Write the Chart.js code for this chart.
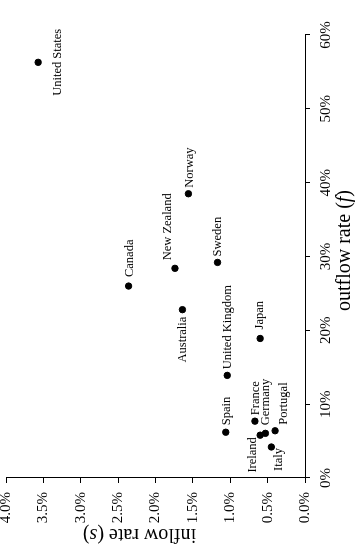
<!DOCTYPE html>
<html>
<head>
<meta charset="utf-8">
<script src="https://cdn.jsdelivr.net/npm/chart.js@4.4.1/dist/chart.umd.min.js"></script>
<style>
html, body { margin: 0; padding: 0; background: #fff; overflow: hidden; }
/* the figure is printed turned a quarter turn, so the chart is drawn upright and rotated */
#wrap { position: absolute; left: 0; top: 0; width: 545px; height: 356px;
        transform-origin: 0 0; transform: translate(0, 545px) rotate(-90deg); }
</style>
</head>
<body>
<div id="wrap"><canvas id="flows" width="545" height="356"></canvas></div>
<script>
// values, in percent
var countries = ["United States", "Canada", "New Zealand", "Australia", "Norway", "Sweden", "Japan",
                 "United Kingdom", "Spain", "France", "Ireland", "Germany", "Portugal", "Italy"];
var inflowRate  = [3.57, 2.36, 1.74, 1.64, 1.56, 1.17, 0.60, 1.04, 1.06, 0.67, 0.60, 0.53, 0.40, 0.45];
var outflowRate = [56.3, 26.0, 28.4, 22.8, 38.5, 29.2, 18.9, 13.9, 6.2, 7.7, 5.8, 6.05, 6.4, 4.2];
var outflowTicks = [0, 10, 20, 30, 40, 50, 60];
var inflowTicks  = [0, 0.5, 1, 1.5, 2, 2.5, 3, 3.5, 4];

// where each country name sits next to its dot: [dx, dy, align]
var labelSpots = {
    "United States": [0, 20, "center"],
    "Canada": [9, 1, "left"],
    "New Zealand": [8, -7, "left"],
    "Australia": [-7, 0, "right"],
    "Norway": [6, 1, "left"],
    "Sweden": [6, 0, "left"],
    "Japan": [9, 0, "left"],
    "United Kingdom": [6, 0, "left"],
    "Spain": [7, 1, "left"],
    "France": [6, 1, "left"],
    "Ireland": [-2, -7, "right"],
    "Germany": [8, 0, "left"],
    "Portugal": [6, 9, "left"],
    "Italy": [-1, 7, "right"]
};

var serif = '"Liberation Serif", "DejaVu Serif", serif';

var points = countries.map(function (c, i) {
    return { x: outflowRate[i], y: inflowRate[i] };
});

var pointNames = {
    id: "pointNames",
    afterDatasetsDraw: function (chart) {
        var ctx = chart.ctx;
        var meta = chart.getDatasetMeta(0);
        ctx.save();
        ctx.font = "12.5px " + serif;
        ctx.fillStyle = "#000";
        ctx.textBaseline = "middle";
        meta.data.forEach(function (pt, i) {
            var spot = labelSpots[countries[i]];
            ctx.textAlign = spot[2];
            ctx.fillText(countries[i], pt.x + spot[0], pt.y + spot[1]);
        });
        ctx.restore();
    }
};

// axis titles with the italic symbol, drawn by hand
function mixedText(ctx, parts, cx, cy) {
    var total = 0;
    parts.forEach(function (p) {
        ctx.font = (p[1] ? "italic " : "") + "20px " + serif;
        total += ctx.measureText(p[0]).width;
    });
    var x = cx - total / 2;
    parts.forEach(function (p) {
        ctx.font = (p[1] ? "italic " : "") + "20px " + serif;
        ctx.fillText(p[0], x, cy);
        x += ctx.measureText(p[0]).width;
    });
}

var axisTitles = {
    id: "axisTitles",
    afterDraw: function (chart) {
        var ctx = chart.ctx;
        var area = chart.chartArea;
        ctx.save();
        ctx.fillStyle = "#000";
        ctx.textAlign = "left";
        ctx.textBaseline = "middle";
        mixedText(ctx, [["outflow rate (", false], ["f", true], [")", false]],
                  (area.left + area.right) / 2 + 6, 345);
        ctx.translate(10.5, (area.top + area.bottom) / 2 - 16);
        ctx.rotate(-Math.PI / 2);
        mixedText(ctx, [["inflow rate (", false], ["s", true], [")", false]], 0, 0);
        ctx.restore();
    }
};

var config = {
    type: "scatter",
    data: {
        datasets: [{
            data: points,
            backgroundColor: "#000",
            borderColor: "#000",
            pointRadius: 3.2,
            pointHoverRadius: 3.2
        }]
    },
    options: {
        responsive: false,
        animation: false,
        devicePixelRatio: 1,
        layout: { padding: { top: 6, right: 35, bottom: 0, left: 0 } },
        plugins: { legend: { display: false }, tooltip: { enabled: false } },
        scales: {
            x: {
                type: "linear",
                min: 0,
                max: 60,
                afterBuildTicks: function (s) { s.ticks = outflowTicks.map(function (v) { return { value: v }; }); },
                afterFit: function (s) { s.height = 51; },
                border: { display: true, color: "#000", width: 1 },
                grid: { drawOnChartArea: false, drawTicks: true, tickLength: 5, color: "#000" },
                ticks: {
                    color: "#000",
                    font: { family: serif, size: 15 },
                    padding: 7,
                    maxRotation: 0,
                    callback: function (v) { return v + "%"; }
                }
            },
            y: {
                type: "linear",
                min: 0,
                max: 4,
                afterBuildTicks: function (s) { s.ticks = inflowTicks.map(function (v) { return { value: v }; }); },
                afterFit: function (s) { s.width = 67; s.paddingTop = 0; s.paddingBottom = 0; },
                border: { display: true, color: "#000", width: 1 },
                grid: { drawOnChartArea: false, drawTicks: true, tickLength: 5, color: "#000" },
                ticks: {
                    color: "#000",
                    font: { family: serif, size: 15 },
                    padding: 9,
                    callback: function (v) { return v.toFixed(1) + "%"; }
                }
            }
        }
    },
    plugins: [pointNames, axisTitles]
};

var flowChart = new Chart(document.getElementById("flows"), config);
</script>
</body>
</html>
